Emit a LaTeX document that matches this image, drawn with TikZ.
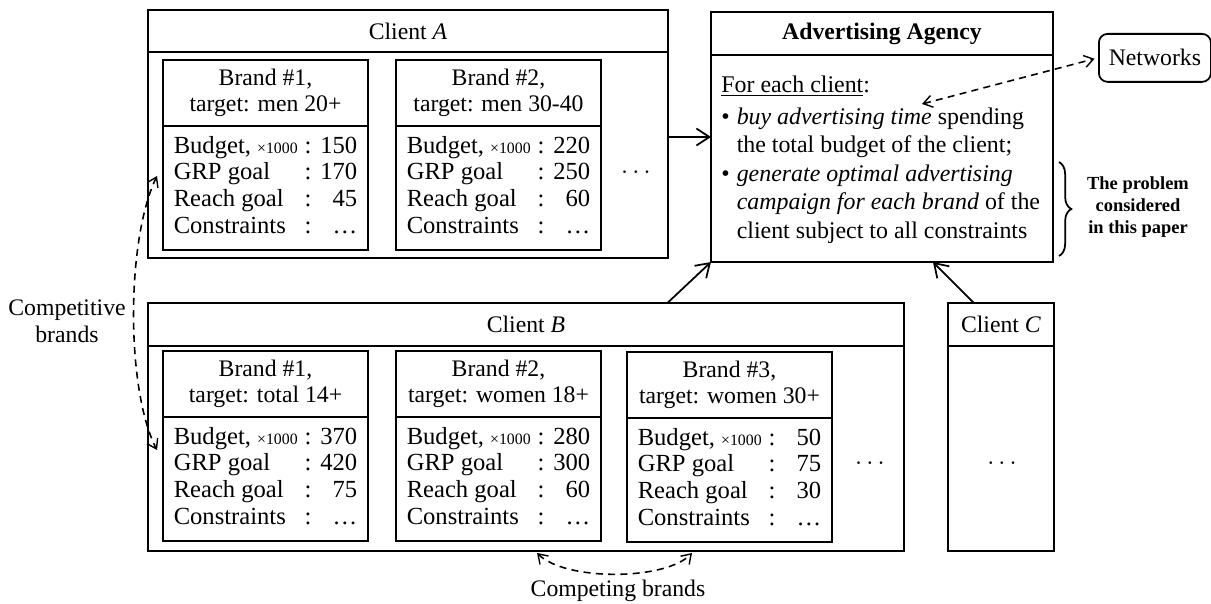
\documentclass[tikz,border=0pt]{standalone}
\usepackage{fontspec}
\setmainfont{Liberation Serif}
\usetikzlibrary{arrows.meta,decorations.pathreplacing,calc}
\newdimen\pxu \pxu=0.02cm
\newcommand\brandtab[3]{\begin{tabular}{@{}l@{\hspace{4pt}}c@{\hspace{5pt}}r@{}}Budget, {\fontsize{9}{10}\selectfont ×1000} & : & #1\\ GRP goal & : & #2\\ Reach goal & : & #3\\ Constraints & : & \dots\end{tabular}}
\newcommand\brandbox[8]{%
  \node[hd, minimum width=205*\pxu, minimum height=66*\pxu, font=\fontsize{13.5}{14.5}\selectfont] (#1h) at (#2,#3) {#4\\#5};
  \node[bx, font=\fontsize{14}{15.3}\selectfont, minimum width=205*\pxu, minimum height=124*\pxu] (#1b) at (#1h.south west) {\brandtab{#6}{#7}{#8}};
}
\begin{document}
\begin{tikzpicture}[x=0.02cm,y=-0.02cm,
  bx/.style={draw, line width=1pt, inner sep=0pt, outer sep=0pt, anchor=north west},
  tx/.style={font=\fontsize{13.5}{15.5}\selectfont},
  hd/.style={bx, tx, align=center},
  arr/.style={line width=1pt, -{Straight Barb[length=2.6mm,width=3.4mm,line width=1pt]}},
  dsh/.style={line width=0.9pt, dash pattern=on 4pt off 3pt},
  sbarb/.style={{Straight Barb[length=1.8mm,width=2.4mm,line width=0.8pt]}-{Straight Barb[length=1.8mm,width=2.4mm,line width=0.8pt]}},
  ]
\useasboundingbox (0,0) rectangle (1211,604);

% Client A
\node[bx, minimum width=520*\pxu, minimum height=248*\pxu] (cA) at (148,10) {};
\node[hd, minimum width=520*\pxu, minimum height=42*\pxu] (cAh) at (148,10) {Client \textit{A}};
\brandbox{bA1}{163}{60}{Brand \#1,}{target: men 20+}{150}{170}{45}
\brandbox{bA2}{396}{60}{Brand \#2,}{target: men 30-40}{220}{250}{60}
\node[tx] (dA) at (636,173) {$\cdots$};

% Agency
\node[bx, minimum width=342*\pxu, minimum height=250*\pxu] (ag) at (711,12) {};
\node[hd, minimum width=342*\pxu, minimum height=43*\pxu, font=\fontsize{13.5}{15.5}\selectfont\bfseries] (agh) at (711,12) {Advertising Agency};
\node[anchor=north west, inner sep=0pt, font=\fontsize{13.6}{16.2}\selectfont] (agt) at (721,72) {\begin{tabular}{@{}l@{\hspace{4pt}}l@{}}
\multicolumn{2}{@{}l}{\underline{For each client}:}\\[2pt]
\textbullet & \textit{buy advertising time} spending\\
 & the total budget of the client;\\
\textbullet & \textit{generate optimal advertising}\\
 & \textit{campaign for each brand} of the\\
 & client subject to all constraints
\end{tabular}};

% Networks
\node[draw, rounded corners=5pt, line width=1pt, anchor=north west, inner sep=0pt, minimum width=112*\pxu, minimum height=48*\pxu, tx] (net) at (1098,33) {Networks};
\coordinate (tm) at (922,104);
\draw[dsh, sbarb, shorten >=2pt] (tm) -- (net.west);

% Brace
\draw[decorate, decoration={brace, amplitude=7pt}, line width=1pt] (1059,162) -- (1059,256);
\node[font=\fontsize{10.5}{12.5}\selectfont\bfseries, align=center] (prob) at (1138,207) {The problem\\considered\\in this paper};

% Client B
\node[bx, minimum width=756*\pxu, minimum height=248*\pxu] (cB) at (148,303) {};
\node[hd, minimum width=756*\pxu, minimum height=43*\pxu] (cBh) at (148,303) {Client \textit{B}};
\brandbox{bB1}{163}{351}{Brand \#1,}{target: total 14+}{370}{420}{75}
\brandbox{bB2}{396}{351}{Brand \#2,}{target: women 18+}{280}{300}{60}
\brandbox{bB3}{627}{352}{Brand \#3,}{target: women 30+}{\phantom{0}50}{75}{30}
\node[tx] (dB) at (870,464) {$\cdots$};

% Client C
\node[bx, minimum width=106*\pxu, minimum height=248*\pxu] (cC) at (948,303) {};
\node[hd, minimum width=106*\pxu, minimum height=43*\pxu] (cCh) at (948,303) {Client \textit{C}};
\node[tx] (dC) at (1002,464) {$\cdots$};

% Arrows to agency
\draw[arr] (cA.east |- ag.west) -- (ag.west);
\draw[arr] ($(cB.north west)!0.687!(cB.north east)$) -- (ag.south west);
\draw[arr] ($(cC.north west)!0.245!(cC.north east)$) -- ($(ag.south west)!0.649!(ag.south east)$);

% Competitive brands
\coordinate (k1) at (157,176);
\coordinate (k2) at (157,450);
\draw[dsh, sbarb] (k1) .. controls (126,240) and (126,390) .. (k2);
\node[align=center, font=\fontsize{13.5}{15.3}\selectfont] (cpt) at (67,321) {Competitive\\brands};

% Competing brands
\coordinate (m1) at (537,553);
\coordinate (m2) at (692,553);
\draw[dsh, sbarb] (m1) .. controls (565,581) and (665,581) .. (m2);
\node[tx] (cmp) at (618,591) {Competing brands};
\end{tikzpicture}
\end{document}
